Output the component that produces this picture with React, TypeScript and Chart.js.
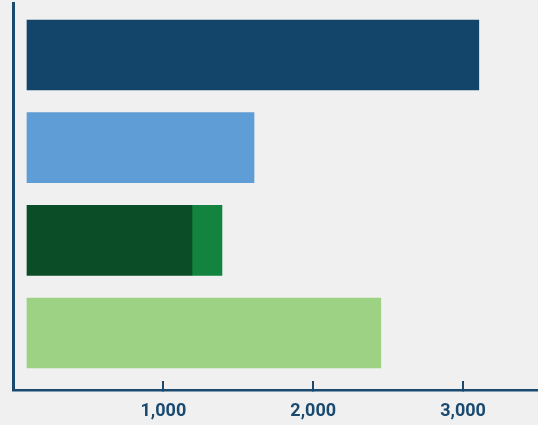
import React, { useEffect, useRef } from "react";
import { Chart, registerables } from "chart.js";

Chart.register(...registerables);

const categories = ["Category 1", "Category 2", "Category 3", "Category 4"];
const mainValues = [3105, 1605, 1191, 2451];
const extraValues = [null, null, 200, null];
const mainColors = ["#134469", "#5f9dd6", "#0b4d27", "#9dd184"];
const extraColor = "#12843f";
const xTicks = [1000, 2000, 3000];
const barStart = 90;

const AXIS = "#1b4a71";
const BG = "#f0f0f0";

export default function App() {
  const ref = useRef<HTMLCanvasElement | null>(null);
  useEffect(() => {
    document.body.style.margin = "0";
    document.body.style.background = BG;
    const canvas = ref.current!;
    const chart = new Chart(canvas, {
      type: "bar",
      data: {
        datasets: [
          {
            label: "main",
            data: categories.map((_, i) => ({ x: mainValues[i], y: i })),
            backgroundColor: mainColors,
            base: barStart,
            barThickness: 70,
          } as any,
          {
            label: "extra",
            data: categories
              .map((_, i) => (extraValues[i] == null ? null : { x: extraValues[i], y: i }))
              .filter((d) => d !== null),
            backgroundColor: extraColor,
            barThickness: 70,
          } as any,
        ],
      },
      options: {
        indexAxis: "y",
        animation: false,
        responsive: false,
        layout: { padding: { left: 13.5, top: 3, right: 0, bottom: 0 } },
        plugins: { legend: { display: false }, tooltip: { enabled: false } },
        scales: {
          x: {
            type: "linear",
            stacked: true,
            min: 0,
            max: 3500,
            offset: false,
            afterBuildTicks: (s: any) => {
              s.ticks = xTicks.map((v) => ({ value: v }));
            },
            afterFit: (s: any) => {
              s.height = 35;
            },
            grid: {
              display: true,
              drawOnChartArea: false,
              drawTicks: true,
              tickLength: -9,
              color: AXIS,
              lineWidth: 2,
              offset: false,
            },
            border: { display: true, color: AXIS, width: 2.5 },
            ticks: {
              color: AXIS,
              padding: 20,
              font: { family: "Roboto", size: 18, weight: "bold" },
              callback: (v: any) => Number(v).toLocaleString("en-US"),
            },
          },
          y: {
            type: "linear",
            stacked: true,
            reverse: true,
            offset: false,
            min: -0.561,
            max: 3.615,
            afterFit: (s: any) => {
              s.width = 0;
            },
            grid: { display: false, offset: false },
            border: { display: true, color: AXIS, width: 3 },
            ticks: { display: false },
          },
        },
      } as any,
    });
    return () => chart.destroy();
  }, []);
  return (
    <div style={{ width: 538, height: 425, background: BG }}>
      <canvas ref={ref} width={538} height={425} />
    </div>
  );
}
